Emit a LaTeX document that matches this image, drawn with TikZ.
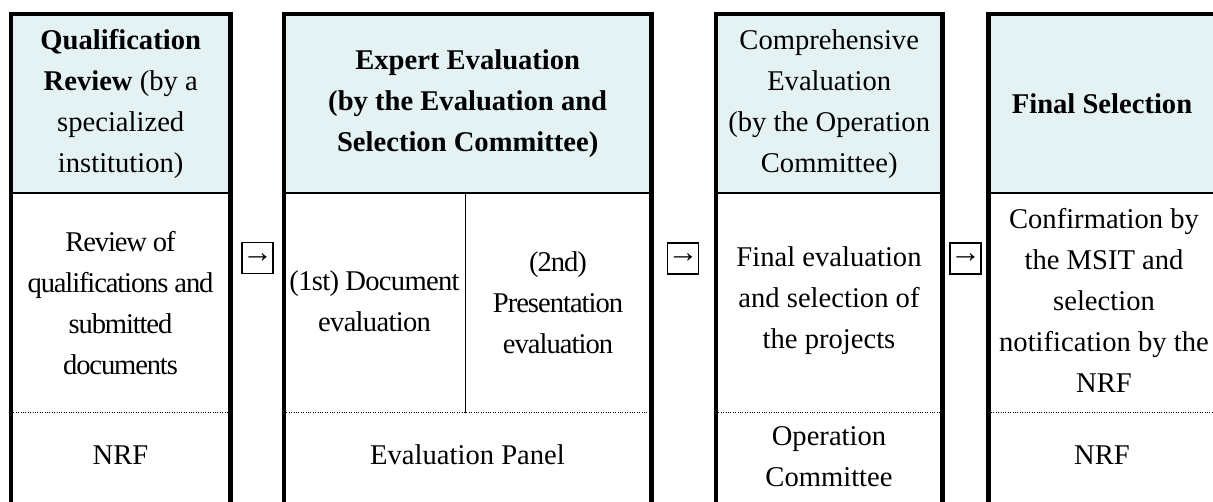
\documentclass[tikz,border=0pt]{standalone}
\usepackage{fontspec}
\setmainfont{Liberation Serif}
\definecolor{headfill}{RGB}{228,242,243}
\begin{document}
\begin{tikzpicture}[x=1pt,y=-1pt,
  frame/.style={line width=4.4pt},
  headrule/.style={line width=2.4pt},
  rowrule/.style={line width=1pt, dash pattern=on 1pt off 1.4pt},
  cellsplit/.style={line width=1pt},
  headcell/.style={fill=headfill, draw=none, inner sep=0pt, anchor=north west, minimum height=179pt},
  txt/.style={align=center, inner sep=0pt, font=\fontsize{28.6}{41}\selectfont},
  tight/.style={align=center, inner sep=0pt, font=\fontsize{28.6}{41}\selectfont\addfontfeature{LetterSpace=#1}},
  stepbox/.style={draw, line width=1.3pt, minimum width=31pt, minimum height=31pt, inner sep=0pt},
  steparrow/.style={inner sep=0pt, font=\fontsize{31}{31}\selectfont},
]
\useasboundingbox (0,0) rectangle (1213,502);
\clip (0,0) rectangle (1213,502);

% reference heights: header rule, row rule, bottom (below the page)
\coordinate (hrule) at (0,193);
\coordinate (rrule) at (0,413);
\coordinate (base) at (0,520);

% header backgrounds
\node[headcell, minimum width=219pt] (h1) at (11,14) {};
\node[headcell, minimum width=367pt] (h2) at (284,14) {};
\node[headcell, minimum width=226pt] (h3) at (716,14) {};
\node[headcell, minimum width=240pt] (h4) at (988.5,14) {};

% header texts
\node[txt] (h1t) at (h1.center) {\textbf{Qualification}\\\textbf{Review} (by a\\specialized\\institution)};
\node[txt] (h2t) at (h2.center) {\textbf{Expert Evaluation}\\\textbf{(by the Evaluation and}\\\textbf{Selection Committee)}};
\node[txt] (h3t) at (h3.center) {Comprehensive\\Evaluation\\(by the Operation\\Committee)};
\node[txt] (h4t) at (1102,103.5) {\textbf{Final Selection}};

% task row
\node[tight=-4] (t1) at (120.5,303) {Review of\\qualifications and\\submitted\\documents};
\node[tight=-2.5] (t2a) at (374.5,301) {(1st) Document\\evaluation};
\node[tight=-3.5] (t2b) at (558,303) {(2nd)\\Presentation\\evaluation};
\node[txt] (t3) at (829,301) {Final evaluation\\and selection of\\the projects};
\node[txt] (t4) at (1104,300) {Confirmation by\\the MSIT and\\selection\\notification by the\\NRF};

% responsible body row
\node[txt] (r1) at (120.5,455) {NRF};
\node[txt] (r2) at (467.5,455) {Evaluation Panel};
\node[txt] (r3) at (829,457) {Operation\\Committee};
\node[txt] (r4) at (1102,455) {NRF};

% step markers between the stages
\node[stepbox] (s1) at (257.5,258) {};
\node[stepbox] (s2) at (683,258.5) {};
\node[stepbox] (s3) at (965.5,258.5) {};
\foreach \s in {s1,s2,s3}{
  \node[steparrow] (\s a) at (\s.center) {→};
}

% row separators
\foreach \c in {h1,h2,h3,h4}{
  \draw[headrule] (\c.south west |- hrule) -- (\c.south east |- hrule);
  \draw[rowrule] (\c.south west |- rrule) -- (\c.south east |- rrule);
}
\draw[cellsplit] (465,193) -- (465,413);

% stage frames
\foreach \c in {h1,h2,h3}{
  \draw[frame] (\c.north west |- base) -- (\c.north west) -- (\c.north east) -- (\c.north east |- base);
}
\draw[frame] (h4.north west |- base) -- (h4.north west) -- (h4.north east);
\end{tikzpicture}
\end{document}
